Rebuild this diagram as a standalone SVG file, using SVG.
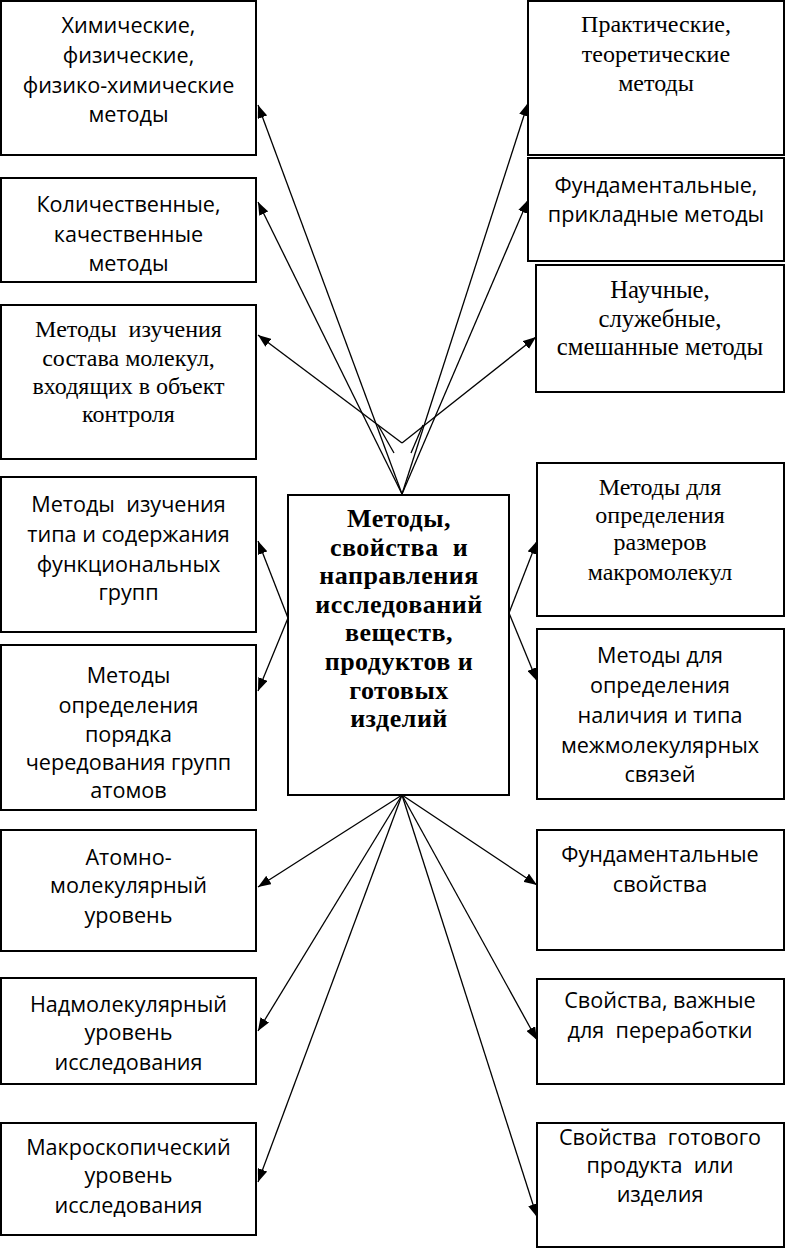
<svg xmlns="http://www.w3.org/2000/svg" width="785" height="1249" viewBox="0 0 785 1249" xml:space="preserve">
<defs>
<marker id="ah" markerUnits="userSpaceOnUse" markerWidth="14" markerHeight="10" refX="13" refY="5" orient="auto">
<path d="M0,0 L13,5 L0,10 z" fill="#000"/>
</marker>
<style>
rect{fill:#fff;stroke:#000;stroke-width:2}
text{white-space:pre}
.s{font-family:"Open Sans","Noto Sans",sans-serif;font-size:21.6px;text-anchor:middle;fill:#000}
.t{font-family:"Liberation Serif","Times New Roman",serif;font-size:24px;text-anchor:middle;fill:#000}
.t2{font-size:24.8px}
.b{font-family:"Liberation Serif","Times New Roman",serif;font-size:26px;letter-spacing:0.5px;font-weight:bold;text-anchor:middle;fill:#000}
#connectors line{stroke:#000;stroke-width:1.3;fill:none}
#connectors .a{marker-end:url(#ah)}
</style>
</defs>
<rect x="0" y="0" width="785" height="1249" style="fill:#fff;stroke:none"/>
<g id="connectors">
<line class="a" x1="402" y1="494" x2="258" y2="105"/>
<line class="a" x1="402" y1="494" x2="258" y2="202"/>
<line class="a" x1="402" y1="494" x2="528" y2="103"/>
<line class="a" x1="402" y1="494" x2="528" y2="200"/>
<line class="a" x1="402" y1="443" x2="258" y2="335"/>
<line class="a" x1="402" y1="443" x2="536" y2="337"/>
<line x1="378" y1="425" x2="394" y2="453"/>
<line x1="423" y1="425" x2="411" y2="453"/>
<line class="a" x1="288" y1="618" x2="258" y2="541"/>
<line class="a" x1="288" y1="618" x2="258" y2="691"/>
<line class="a" x1="509" y1="613" x2="537" y2="541"/>
<line class="a" x1="509" y1="613" x2="537" y2="681"/>
<line class="a" x1="402" y1="795" x2="258" y2="887"/>
<line class="a" x1="402" y1="795" x2="258" y2="1031"/>
<line class="a" x1="402" y1="795" x2="258" y2="1182"/>
<line class="a" x1="402" y1="795" x2="537" y2="885"/>
<line class="a" x1="402" y1="795" x2="537" y2="1040"/>
<line class="a" x1="402" y1="795" x2="537" y2="1217"/>
</g>
<g id="center">
<rect x="288" y="495" width="221" height="300"/>
<text class="b" x="399" y="527">Методы,</text>
<text class="b" x="399" y="556">свойства  и</text>
<text class="b" x="399" y="584">направления</text>
<text class="b" x="399" y="613">исследований</text>
<text class="b" x="399" y="641">веществ,</text>
<text class="b" x="399" y="670">продуктов и</text>
<text class="b" x="399" y="699">готовых</text>
<text class="b" x="399" y="727">изделий</text>
</g>
<g id="n1">
<rect x="1" y="1" width="255" height="154"/>
<text class="s" x="128.5" y="33">Химические,</text>
<text class="s" x="128.5" y="63">физические,</text>
<text class="s" x="128.5" y="93">физико-химические</text>
<text class="s" x="128.5" y="122">методы</text>
</g>
<g id="n2">
<rect x="1" y="178" width="255" height="104"/>
<text class="s" x="128.5" y="212">Количественные,</text>
<text class="s" x="128.5" y="242">качественные</text>
<text class="s" x="128.5" y="271">методы</text>
</g>
<g id="n3">
<rect x="1" y="305" width="255" height="154"/>
<text class="t" x="128.5" y="337">Методы  изучения</text>
<text class="t" x="128.5" y="366">состава молекул,</text>
<text class="t" x="128.5" y="394">входящих в объект</text>
<text class="t" x="128.5" y="422">контроля</text>
</g>
<g id="n4">
<rect x="1" y="477" width="255" height="155"/>
<text class="s" x="128.5" y="512">Методы  изучения</text>
<text class="s" x="128.5" y="542">типа и содержания</text>
<text class="s" x="128.5" y="572">функциональных</text>
<text class="s" x="128.5" y="600">групп</text>
</g>
<g id="n5">
<rect x="1" y="645" width="255" height="165"/>
<text class="s" x="128.5" y="683">Методы</text>
<text class="s" x="128.5" y="713">определения</text>
<text class="s" x="128.5" y="742">порядка</text>
<text class="s" x="128.5" y="770">чередования групп</text>
<text class="s" x="128.5" y="798">атомов</text>
</g>
<g id="n6">
<rect x="1" y="830" width="255" height="121"/>
<text class="s" x="128.5" y="865">Атомно-</text>
<text class="s" x="128.5" y="893">молекулярный</text>
<text class="s" x="128.5" y="923">уровень</text>
</g>
<g id="n7">
<rect x="1" y="978" width="255" height="106"/>
<text class="s" x="128.5" y="1012">Надмолекулярный</text>
<text class="s" x="128.5" y="1040">уровень</text>
<text class="s" x="128.5" y="1070">исследования</text>
</g>
<g id="n8">
<rect x="1" y="1123" width="255" height="112"/>
<text class="s" x="128.5" y="1155">Макроскопический</text>
<text class="s" x="128.5" y="1183">уровень</text>
<text class="s" x="128.5" y="1213">исследования</text>
</g>
<g id="n9">
<rect x="528" y="1" width="256" height="154"/>
<text class="t" x="656" y="32">Практические,</text>
<text class="t" x="656" y="62">теоретические</text>
<text class="t" x="656" y="91">методы</text>
</g>
<g id="n10">
<rect x="528" y="158" width="256" height="103"/>
<text class="s" x="656" y="193">Фундаментальные,</text>
<text class="s" x="656" y="222">прикладные методы</text>
</g>
<g id="n11">
<rect x="536" y="265" width="248" height="127"/>
<text class="t t2" x="660" y="298">Научные,</text>
<text class="t t2" x="660" y="327">служебные,</text>
<text class="t t2" x="660" y="355">смешанные методы</text>
</g>
<g id="n12">
<rect x="537" y="463" width="247" height="153"/>
<text class="t" x="660" y="495">Методы для</text>
<text class="t" x="660" y="523">определения</text>
<text class="t" x="660" y="550">размеров</text>
<text class="t" x="660" y="580">макромолекул</text>
</g>
<g id="n13">
<rect x="537" y="629" width="247" height="170"/>
<text class="s" x="660" y="663">Методы для</text>
<text class="s" x="660" y="693">определения</text>
<text class="s" x="660" y="723">наличия и типа</text>
<text class="s" x="660" y="753">межмолекулярных</text>
<text class="s" x="660" y="782">связей</text>
</g>
<g id="n14">
<rect x="537" y="830" width="247" height="120"/>
<text class="s" x="660" y="862">Фундаментальные</text>
<text class="s" x="660" y="892">свойства</text>
</g>
<g id="n15">
<rect x="537" y="979" width="247" height="105"/>
<text class="s" x="660" y="1008">Свойства, важные</text>
<text class="s" x="660" y="1038">для  переработки</text>
</g>
<g id="n16">
<rect x="537" y="1123" width="247" height="124"/>
<text class="s" x="660" y="1145">Свойства  готового</text>
<text class="s" x="660" y="1173">продукта  или</text>
<text class="s" x="660" y="1202">изделия</text>
</g>
</svg>
